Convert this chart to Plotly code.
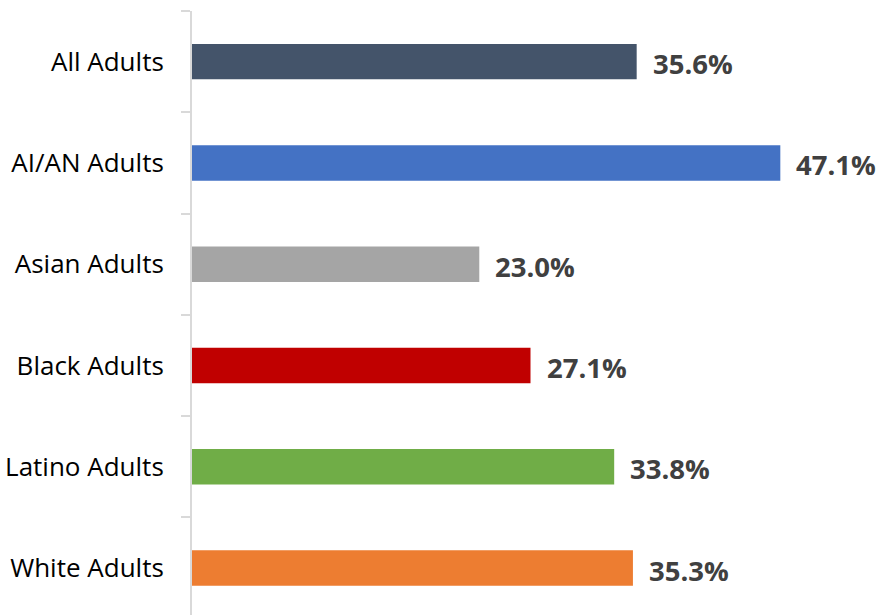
import plotly.graph_objects as go

categories = ["All Adults", "AI/AN Adults", "Asian Adults", "Black Adults", "Latino Adults", "White Adults"]
values = [35.6, 47.1, 23.0, 27.1, 33.8, 35.3]
colors = ["#44546A", "#4472C4", "#A5A5A5", "#C00000", "#70AD47", "#ED7D31"]
labels = [f"{v:.1f}%" for v in values]

fig = go.Figure()
fig.add_trace(go.Bar(
    y=categories, x=values, orientation="h",
    marker=dict(color=colors, line=dict(width=0)),
    hoverinfo="skip",
))
for c, v, t in zip(categories, values, labels):
    fig.add_annotation(x=v, y=c, text=t, showarrow=False, xanchor="left", xshift=14, yshift=-2,
                       font=dict(family="Open Sans", size=27.5, color="#404040", weight="bold"))

fig.update_layout(
    width=879, height=615,
    margin=dict(l=192, r=0, t=11, b=0),
    paper_bgcolor="white", plot_bgcolor="white",
    bargap=0.65, showlegend=False,
)
fig.update_xaxes(range=[0, 55], visible=False)
fig.update_yaxes(
    type="category", categoryorder="array", categoryarray=categories,
    range=[5.464, -0.5], tickson="boundaries", ticks="outside", ticklen=9,
    tickcolor="#D9D9D9", tickwidth=2, showline=True, linecolor="#D9D9D9", linewidth=2,
    showgrid=False, ticklabelstandoff=21,
    tickfont=dict(family="Open Sans", size=26, color="#000000"),
)
fig.write_html("out.html", config={"displayModeBar": False},
               post_script="document.body.style.margin='0';document.body.style.overflow='hidden';")
